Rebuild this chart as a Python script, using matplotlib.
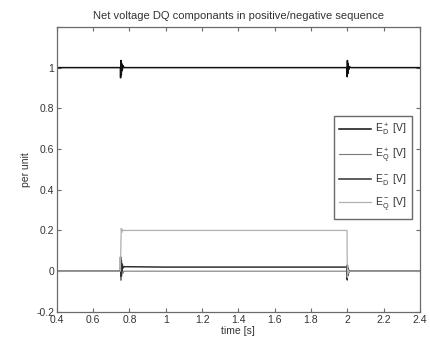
import matplotlib
matplotlib.use('Agg')
import matplotlib.pyplot as plt
import matplotlib.ticker as ticker

plt.rcParams['font.family'] = 'sans-serif'
plt.rcParams['font.sans-serif'] = ['Liberation Sans', 'DejaVu Sans']
plt.rcParams['font.size'] = 7
plt.rcParams['xtick.direction'] = 'in'
plt.rcParams['ytick.direction'] = 'in'
plt.rcParams['xtick.top'] = True
plt.rcParams['ytick.right'] = True
plt.rcParams['xtick.major.size'] = 3
plt.rcParams['ytick.major.size'] = 3
plt.rcParams['mathtext.default'] = 'regular'

# time breakpoints (s) and per-unit values
t_pos = [0.4, 0.75, 0.751, 0.753, 0.755, 0.757, 0.76, 0.764, 0.77, 1.0, 1.5, 1.999,
         2.0, 2.001, 2.003, 2.005, 2.008, 2.012, 2.02, 2.4]
ed_pos = [1.0, 1.0, 0.95, 1.035, 0.965, 1.02, 0.985, 1.01, 1.0, 1.0, 1.0, 1.0,
          0.955, 1.035, 0.97, 1.02, 0.99, 1.005, 1.0, 1.0]
eq_pos = [0.0, 0.0, 0.06, -0.045, 0.035, -0.025, 0.015, -0.01, 0.0, 0.0, 0.0, 0.0,
          -0.045, 0.03, -0.025, 0.015, -0.01, 0.005, 0.0, 0.0]

t_neg = [0.4, 0.75, 0.751, 0.753, 0.755, 0.757, 0.76, 0.764, 0.77, 1.0, 1.5, 1.999,
         2.0, 2.001, 2.003, 2.005, 2.008, 2.012, 2.02, 2.4]
ed_neg = [0.0, 0.0, 0.07, -0.025, 0.05, 0.0, 0.035, 0.015, 0.022, 0.02, 0.02, 0.02,
          -0.04, 0.03, -0.02, 0.01, -0.005, 0.0, 0.0, 0.0]
eq_neg = [0.0, 0.0, 0.05, 0.15, 0.21, 0.19, 0.205, 0.2, 0.2, 0.2, 0.2, 0.2,
          0.05, -0.03, 0.01, -0.01, 0.0, 0.0, 0.0, 0.0]

labels = [r'E$_D^+$ [V]', r'E$_Q^+$ [V]', r'E$_D^-$ [V]', r'E$_Q^-$ [V]']
colors = ['#101010', '#7a7a7a', '#303030', '#b0b0b0']

fig = plt.figure(figsize=(4.31, 3.45), dpi=100)
ax = fig.add_axes([0.132, 0.096, 0.842, 0.826])

ax.plot(t_pos, ed_pos, color=colors[0], lw=1.1, label=labels[0])
ax.plot(t_pos, eq_pos, color=colors[1], lw=0.8, label=labels[1])
ax.plot(t_neg, ed_neg, color=colors[2], lw=1.1, label=labels[2])
ax.plot(t_neg, eq_neg, color=colors[3], lw=0.9, label=labels[3])

ax.set_xlim(0.4, 2.4)
ax.set_ylim(-0.2, 1.2)
ax.xaxis.set_major_locator(ticker.MultipleLocator(0.2))
ax.yaxis.set_major_locator(ticker.MultipleLocator(0.2))
ax.xaxis.set_major_formatter(ticker.FuncFormatter(lambda v, p: f'{v:g}'))
ax.yaxis.set_major_formatter(ticker.FuncFormatter(lambda v, p: f'{v:g}' if v < 1.1 else ''))

for s in ax.spines.values():
    s.set_color('#6a6a6a')
    s.set_linewidth(0.9)
ax.tick_params(colors='#6a6a6a', labelcolor='#333333', labelsize=7.5, pad=2)

ax.set_xlabel('time [s]', color='#333333', fontsize=7.5, labelpad=1)
ax.set_ylabel('per unit', color='#333333', fontsize=7.5, labelpad=4)
ax.set_title('Net voltage DQ componants in positive/negative sequence',
             color='#333333', fontsize=8, pad=6)

leg = ax.legend(loc='upper right', bbox_to_anchor=(0.992, 0.706), fontsize=7.5,
                fancybox=False, framealpha=1, edgecolor='#6a6a6a',
                handlelength=3.0, handletextpad=0.4, labelspacing=0.75, borderpad=0.55)
for txt in leg.get_texts():
    txt.set_color('#333333')

fig.savefig('out.png', dpi=100)
